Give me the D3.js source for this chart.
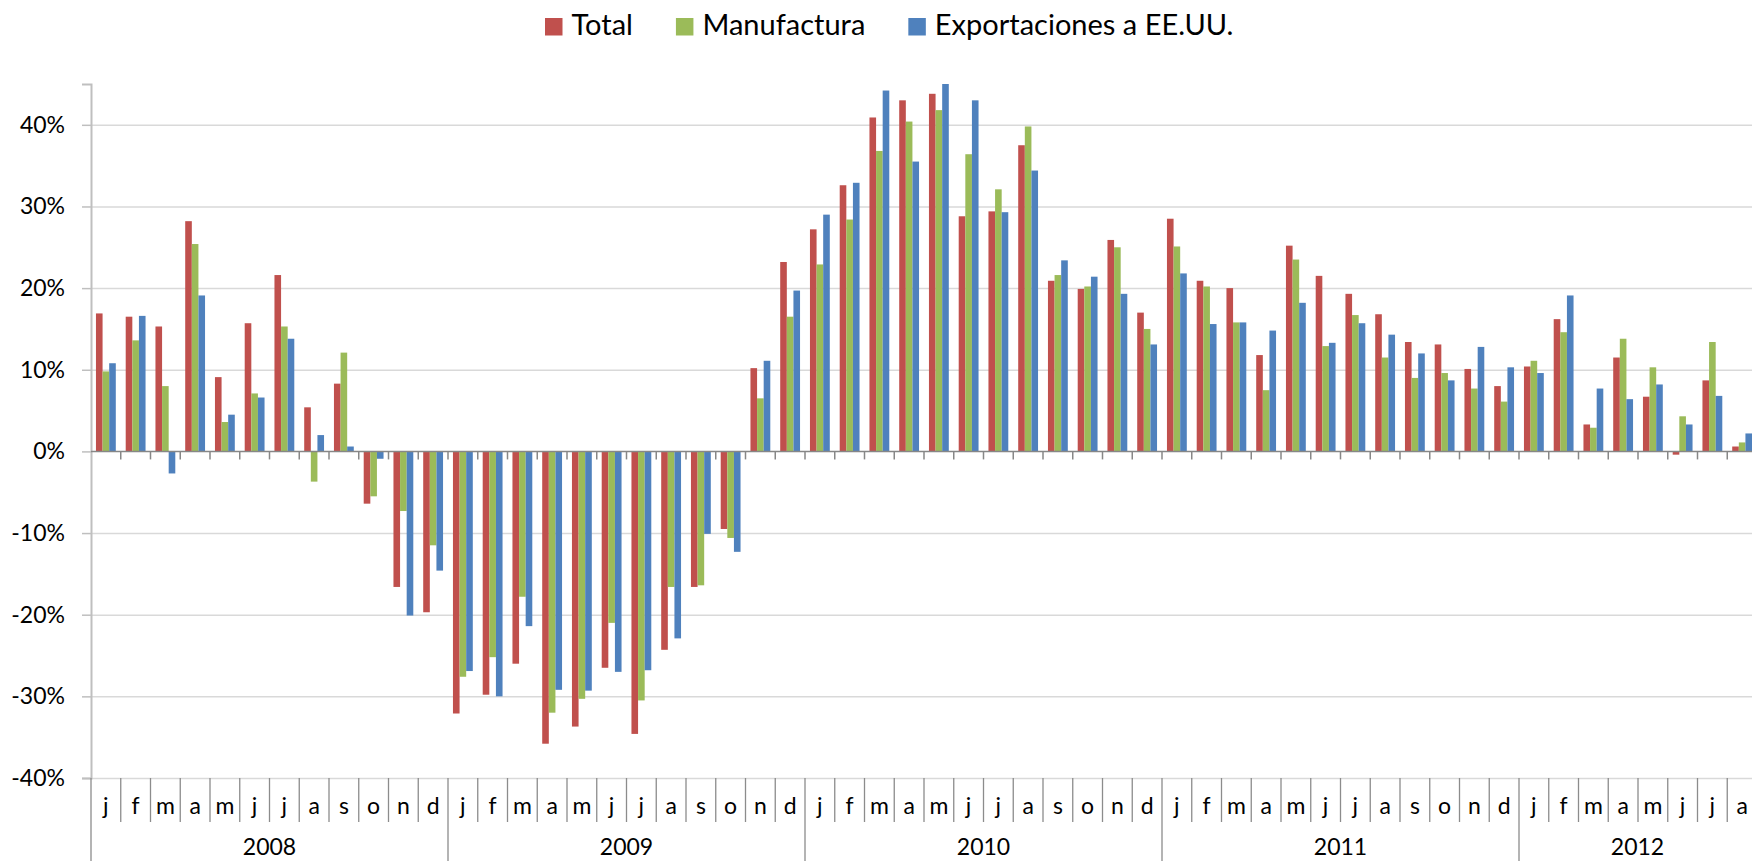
<!DOCTYPE html>
<html>
<head>
<meta charset="utf-8">
<script src="https://cdn.jsdelivr.net/npm/d3@7"></script>
<style>
body{margin:0;background:#fff;}
text{font-family:Lato,"Open Sans",sans-serif;fill:#000;}
</style>
</head>
<body>
<div id="chart"></div>
<script>
let w = 1752;
let h = 861;
let margin = {top: 84, right: -5, bottom: 83, left: 91};

let months = ["j","f","m","a","m","j","j","a","s","o","n","d"];
let years = ["2008","2009","2010","2011","2012"];
let monthsPerYear = [12,12,12,12,8];

let total = [
  16.9, 16.5, 15.3, 28.2, 9.1, 15.7, 21.6, 5.4, 8.3, -6.4, -16.6, -19.7,
  -32.1, -29.8, -26.0, -35.8, -33.7, -26.5, -34.6, -24.3, -16.6, -9.5, 10.2, 23.2,
  27.2, 32.6, 40.9, 43.0, 43.8, 28.8, 29.4, 37.5, 20.9, 19.9, 25.9, 17.0,
  28.5, 20.9, 20.0, 11.8, 25.2, 21.5, 19.3, 16.8, 13.4, 13.1, 10.1, 8.0,
  10.4, 16.2, 3.3, 11.5, 6.7, -0.4, 8.7, 0.6
];
let manufactura = [
  9.8, 13.6, 8.0, 25.4, 3.6, 7.1, 15.3, -3.7, 12.1, -5.5, -7.3, -11.5,
  -27.6, -25.2, -17.8, -32.0, -30.3, -21.0, -30.5, -16.6, -16.4, -10.6, 6.5, 16.5,
  22.9, 28.4, 36.8, 40.4, 41.8, 36.4, 32.1, 39.8, 21.6, 20.2, 25.0, 15.0,
  25.1, 20.2, 15.8, 7.5, 23.5, 12.9, 16.7, 11.5, 9.0, 9.6, 7.7, 6.1,
  11.1, 14.6, 2.9, 13.8, 10.3, 4.3, 13.4, 1.1
];
let exportaciones = [
  10.8, 16.6, -2.7, 19.1, 4.5, 6.6, 13.8, 2.0, 0.6, -0.9, -20.1, -14.6,
  -26.9, -30.0, -21.4, -29.2, -29.3, -27.0, -26.8, -22.9, -10.1, -12.3, 11.1, 19.7,
  29.0, 32.9, 44.2, 35.5, 45.0, 43.0, 29.3, 34.4, 23.4, 21.4, 19.3, 13.1,
  21.8, 15.6, 15.8, 14.8, 18.2, 13.3, 15.7, 14.3, 12.0, 8.7, 12.8, 10.3,
  9.6, 19.1, 7.7, 6.4, 8.2, 3.3, 6.8, 2.2
];

let seriesNames = ["Total","Manufactura","Exportaciones a EE.UU."];
let colors = ["#C0504D","#9BBB59","#4F81BD"];
let yTicks = [-40,-30,-20,-10,0,10,20,30,40];

// one entry per month
let categories = [];
years.forEach(function(y,yi){
  for(let m=0;m<monthsPerYear[yi];m++){
    categories.push({year:y, month:months[m], idx:categories.length});
  }
});
let allSeries = [total, manufactura, exportaciones];

let viz = d3.select("#chart")
  .append("svg")
  .attr("width", w)
  .attr("height", h)
  .style("display","block")
;

let x = d3.scaleBand()
  .domain(categories.map(d=>d.idx))
  .range([margin.left, w - margin.right])
  .paddingInner(1/3)
  .paddingOuter(1/6);
let xs = d3.scaleBand().domain([0,1,2]).range([0, x.bandwidth()]);
let y = d3.scaleLinear().domain([-40,45]).range([h - margin.bottom, margin.top]);

// edge of category i
function edge(i){
  return margin.left + i * x.step();
}

// gridlines
let grid = viz.append("g")
  .attr("transform","translate("+margin.left+",0)")
  .call(d3.axisLeft(y).tickValues(yTicks.filter(d=>d!=0)).tickSize(-(w - margin.left)).tickFormat(""));
grid.select(".domain").remove();
grid.selectAll("line").attr("stroke","#d9d9d9").attr("stroke-width",1.5);

// bars
let groups = viz.selectAll(".series").data(allSeries).enter()
  .append("g")
  .attr("class","series")
  .attr("fill", (d,i)=>colors[i]);
groups.each(function(vals, si){
  d3.select(this).selectAll("rect").data(vals).enter()
    .append("rect")
    .attr("x", (d,i)=> x(i) + xs(si))
    .attr("width", xs.bandwidth())
    .attr("y", d=> Math.min(y(d), y(0)))
    .attr("height", d=> Math.abs(y(d) - y(0)));
});

// y axis
let yAxis = viz.append("g")
  .attr("transform","translate("+margin.left+",0)")
  .call(d3.axisLeft(y).tickValues(yTicks).tickSize(9).tickPadding(17).tickFormat(d=>d+"%"));
yAxis.select(".domain").attr("stroke","#bfbfbf").attr("stroke-width",2);
yAxis.selectAll("line").attr("stroke","#bfbfbf").attr("stroke-width",1.5);
yAxis.selectAll("text").style("font-size","23px").style("font-family","Lato,sans-serif").attr("fill","#000");

// horizontal axis at zero
viz.append("line")
  .attr("x1", margin.left).attr("x2", w)
  .attr("y1", y(0)).attr("y2", y(0))
  .attr("stroke","#878787").attr("stroke-width",1.5);
viz.append("g").selectAll("line").data(d3.range(1, categories.length+1)).enter()
  .append("line")
  .attr("x1", d=>edge(d)).attr("x2", d=>edge(d))
  .attr("y1", y(0)).attr("y2", y(0)+8)
  .attr("stroke","#878787").attr("stroke-width",1.5);

// category labels: months and years
let yBottom = y(-40);
let yearStart = [0];
monthsPerYear.forEach(function(n,i){ yearStart.push(yearStart[i]+n); });

viz.append("g").selectAll("line").data(d3.range(0, categories.length+1)).enter()
  .append("line")
  .attr("x1", d=>edge(d)).attr("x2", d=>edge(d))
  .attr("y1", yBottom)
  .attr("y2", d=> yearStart.indexOf(d) >= 0 ? h : yBottom + 44)
  .attr("stroke","#8c8c8c").attr("stroke-width",1.3);

viz.append("g").selectAll("text").data(categories).enter()
  .append("text")
  .text(d=>d.month)
  .attr("x", d=> x(d.idx) + x.bandwidth()/2)
  .attr("y", yBottom + 36)
  .attr("text-anchor","middle")
  .style("font-size","23px");

viz.append("g").selectAll("text").data(years).enter()
  .append("text")
  .text(d=>d)
  .attr("x", (d,i)=> (edge(yearStart[i]) + Math.min(edge(yearStart[i+1]), w))/2 + (i==years.length-1 ? 2 : 0))
  .attr("y", yBottom + 77)
  .attr("text-anchor","middle")
  .style("font-size","23px");

// legend
let legend = viz.append("g").attr("class","legend");
let lx = 545;
seriesNames.forEach(function(name,i){
  legend.append("rect")
    .attr("x", lx).attr("y", 18)
    .attr("width", 17.5).attr("height", 17.5)
    .attr("fill", colors[i]);
  let t = legend.append("text")
    .text(name)
    .attr("x", lx + 26.5)
    .attr("y", 35)
    .style("font-size","29px");
  lx = lx + 26.5 + t.node().getComputedTextLength() + 43;
});
</script>
</body>
</html>
